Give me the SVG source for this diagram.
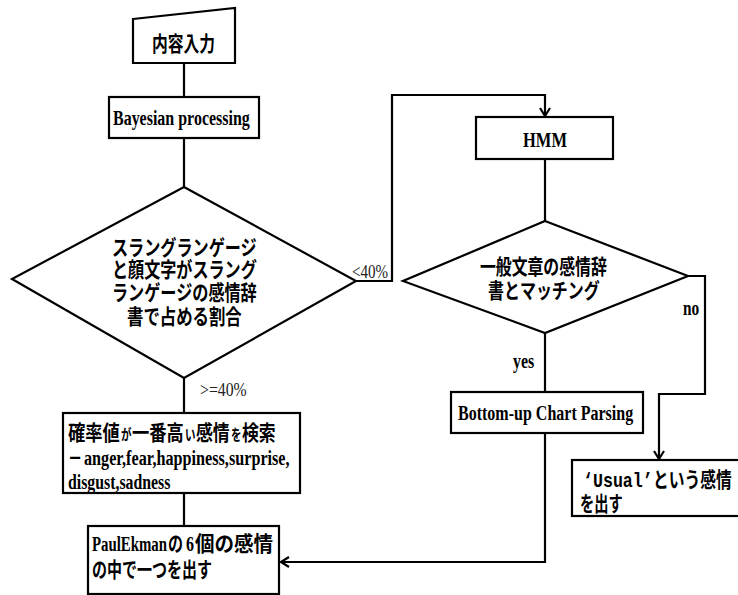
<svg xmlns="http://www.w3.org/2000/svg" width="738" height="595" viewBox="0 0 738 595">
  <style>
    .shape { fill: #ffffff; stroke: #000000; stroke-width: 2.2; }
    .wire { fill: none; stroke: #000000; stroke-width: 2.2; }
    .jp { font-family: "Noto Sans CJK JP", "Noto Sans CJK SC", sans-serif; font-weight: bold; font-size: 21px; fill: #000000; }
    .jps { font-family: "Noto Sans CJK JP", "Noto Sans CJK SC", sans-serif; font-weight: bold; font-size: 15px; fill: #000000; }
    .en { font-family: "Liberation Serif", "Times New Roman", serif; font-weight: bold; font-size: 20px; fill: #000000; }
    .lbl { font-family: "Liberation Serif", "Times New Roman", serif; font-size: 18px; fill: #222222; }
    .mono { font-family: "Liberation Mono", "Courier New", monospace; font-weight: bold; font-size: 20px; fill: #000000; }
  </style>
  <defs>
    <marker id="arrow" markerUnits="userSpaceOnUse" markerWidth="14" markerHeight="14" viewBox="-10 -7 12 14" refX="0" refY="0" orient="auto">
      <path d="M-8,-5 L0,0 L-8,5" fill="none" stroke="#000000" stroke-width="2.2"/>
    </marker>
  </defs>
  <rect width="738" height="595" fill="#ffffff"/>

  <!-- connectors and their labels -->
  <g id="connectors">
    <path class="wire" d="M184,63 V97"/>
    <path class="wire" d="M184,138 V187"/>
    <path class="wire" d="M184,378 V413"/>
    <path class="wire" d="M184,493 V526"/>
    <path class="wire" d="M356,281 H392 V95 H545 V116" marker-end="url(#arrow)"/>
    <path class="wire" d="M545,159 V221"/>
    <path class="wire" d="M545,333 V392"/>
    <path class="wire" d="M545,433 V562 H281" marker-end="url(#arrow)"/>
    <path class="wire" d="M688,276 H705 V394 H659 V459" marker-end="url(#arrow)"/>
    <text class="lbl" transform="translate(352,278) scale(0.84,1)" textLength="43" lengthAdjust="spacingAndGlyphs">&lt;40%</text>
    <text class="lbl" transform="translate(200,396) scale(0.88,1)" textLength="53" lengthAdjust="spacingAndGlyphs">&gt;=40%</text>
    <text class="en" font-size="17" transform="translate(683,315) scale(0.9,1)" textLength="18" lengthAdjust="spacingAndGlyphs">no</text>
    <text class="en" font-size="17" transform="translate(513,368) scale(0.92,1)" textLength="23" lengthAdjust="spacingAndGlyphs">yes</text>
  </g>

  <!-- manual input -->
  <g id="input">
    <polygon class="shape" points="133,19 235,8 235,63 133,63"/>
    <text class="jp" transform="translate(152,51) scale(0.75,1)" textLength="84" lengthAdjust="spacingAndGlyphs">内容入力</text>
  </g>

  <g id="bayesian">
    <rect class="shape" x="109" y="97" width="150" height="41"/>
    <text class="en" transform="translate(113,125) scale(0.8,1)" textLength="171" lengthAdjust="spacingAndGlyphs">Bayesian processing</text>
  </g>

  <g id="slang-ratio">
    <polygon class="shape" points="184,187 356,281 184,378 12,279"/>
    <text class="jp" transform="translate(112,255) scale(0.75,1)" textLength="193" lengthAdjust="spacingAndGlyphs">スラングランゲージ</text>
    <text class="jp" transform="translate(112,277) scale(0.75,1)" textLength="193" lengthAdjust="spacingAndGlyphs">と顔文字がスラング</text>
    <text class="jp" transform="translate(112,300) scale(0.75,1)" textLength="193" lengthAdjust="spacingAndGlyphs">ランゲージの感情辞</text>
    <text class="jp" transform="translate(127,324) scale(0.75,1)" textLength="153" lengthAdjust="spacingAndGlyphs">書で占める割合</text>
  </g>

  <g id="hmm">
    <rect class="shape" x="476" y="117" width="137" height="42"/>
    <text class="en" transform="translate(523,147) scale(0.83,1)" textLength="53" lengthAdjust="spacingAndGlyphs">HMM</text>
  </g>

  <g id="dictionary-match">
    <polygon class="shape" points="545,221 688,276 545,333 403,281"/>
    <text class="jp" transform="translate(480,274) scale(0.75,1)" textLength="169" lengthAdjust="spacingAndGlyphs">一般文章の感情辞</text>
    <text class="jp" transform="translate(488,298) scale(0.75,1)" textLength="149" lengthAdjust="spacingAndGlyphs">書とマッチング</text>
  </g>

  <g id="chart-parsing">
    <rect class="shape" x="451" y="392" width="192" height="41"/>
    <text class="en" transform="translate(458,420) scale(0.8,1)" textLength="219" lengthAdjust="spacingAndGlyphs">Bottom-up Chart Parsing</text>
  </g>

  <g id="usual">
    <rect class="shape" x="572" y="460" width="170" height="56"/>
    <text class="mono" transform="translate(583,487) scale(0.83,1)" textLength="84" lengthAdjust="spacingAndGlyphs">‘Usual’</text>
    <text class="jp" transform="translate(653,487) scale(0.75,1)" textLength="105" lengthAdjust="spacingAndGlyphs">という感情</text>
    <text class="jp" transform="translate(580,511) scale(0.75,1)" textLength="57" lengthAdjust="spacingAndGlyphs">を出す</text>
  </g>

  <g id="probability-search">
    <rect class="shape" x="63" y="413" width="237" height="80"/>
    <text class="jp" transform="translate(68,440) scale(0.75,1)" textLength="69" lengthAdjust="spacingAndGlyphs">確率値</text>
    <text class="jps" transform="translate(121,440) scale(0.75,1)" textLength="14" lengthAdjust="spacingAndGlyphs">が</text>
    <text class="jp" transform="translate(132,440) scale(0.75,1)" textLength="69" lengthAdjust="spacingAndGlyphs">一番高</text>
    <text class="jps" transform="translate(185,440) scale(0.75,1)" textLength="14" lengthAdjust="spacingAndGlyphs">い</text>
    <text class="jp" transform="translate(196,440) scale(0.75,1)" textLength="45" lengthAdjust="spacingAndGlyphs">感情</text>
    <text class="jps" transform="translate(231,440) scale(0.75,1)" textLength="14" lengthAdjust="spacingAndGlyphs">を</text>
    <text class="jp" transform="translate(242,440) scale(0.75,1)" textLength="45" lengthAdjust="spacingAndGlyphs">検索</text>
    <text class="jp" transform="translate(68,465) scale(0.75,1)" textLength="19" lengthAdjust="spacingAndGlyphs">－</text>
    <text class="en" transform="translate(84,465) scale(0.8,1)" textLength="257" lengthAdjust="spacingAndGlyphs">anger,fear,happiness,surprise,</text>
    <text class="en" transform="translate(68,489) scale(0.8,1)" textLength="128" lengthAdjust="spacingAndGlyphs">disgust,sadness</text>
  </g>

  <g id="ekman">
    <rect class="shape" x="88" y="526" width="191" height="68"/>
    <text class="en" transform="translate(92,551) scale(0.75,1)" textLength="100" lengthAdjust="spacingAndGlyphs">PaulEkman</text>
    <text class="jp" transform="translate(168,551) scale(0.75,1)" textLength="20" lengthAdjust="spacingAndGlyphs">の</text>
    <text class="en" transform="translate(186,551) scale(0.8,1)" textLength="10" lengthAdjust="spacingAndGlyphs">6</text>
    <text class="jp" transform="translate(195,551) scale(0.75,1)" textLength="104" lengthAdjust="spacingAndGlyphs">個の感情</text>
    <text class="jp" transform="translate(92,577) scale(0.75,1)" textLength="160" lengthAdjust="spacingAndGlyphs">の中で一つを出す</text>
  </g>
</svg>
